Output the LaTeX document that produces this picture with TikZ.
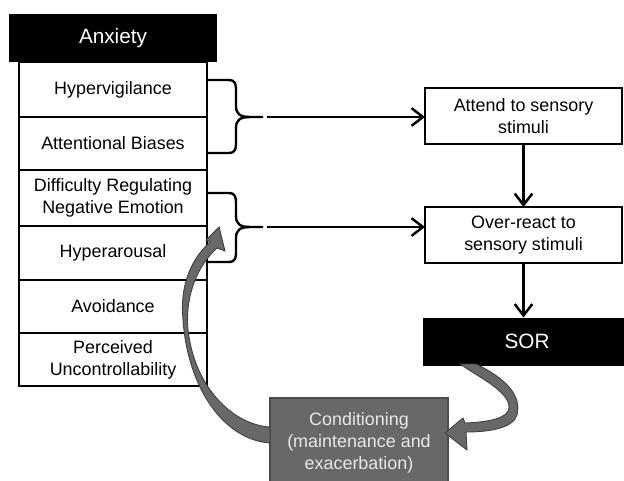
\documentclass[tikz,border=0pt]{standalone}
\usepackage{fontspec}
\setmainfont{Liberation Sans}
\usetikzlibrary{positioning,arrows.meta}

\definecolor{condgray}{RGB}{104,104,104}
\definecolor{condtext}{RGB}{232,232,232}

\tikzset{
  cell/.style={draw, line width=1.05pt, minimum width=3.76cm, align=center,
    inner sep=1pt, outer sep=0pt, font=\fontsize{10.2}{12.5}\selectfont},
  head/.style={fill=black, text=white, minimum width=4.16cm, minimum height=0.96cm,
    outer sep=0pt, font=\fontsize{11.8}{14}\selectfont},
  stimbox/.style={draw, line width=1.05pt, minimum width=3.94cm, minimum height=1.12cm,
    align=center, outer sep=0pt, font=\fontsize{10.2}{12.5}\selectfont},
  flow/.style={-{Straight Barb[length=6.5pt,width=10pt]}, line width=1.4pt},
  brace/.style={line width=1.35pt},
  fatarrow/.style={fill=condgray, draw=black!75, line width=0.5pt}
}

\begin{document}
\begin{tikzpicture}[x=0.02cm, y=-0.02cm]
\clip (0,0) rectangle (624,480);

% left column
\node [head] (anxiety) at (113,38) {Anxiety};
\node [cell, minimum height=1.1cm, below=0pt of anxiety] (hyper) {Hypervigilance};
\node [cell, minimum height=1.06cm, below=0pt of hyper] (biases) {Attentional Biases};
\node [cell, minimum height=1.12cm, below=0pt of biases] (regulate) {Difficulty Regulating\\Negative Emotion};
\node [cell, minimum height=1.08cm, below=0pt of regulate] (arousal) {Hyperarousal};
\node [cell, minimum height=1.06cm, below=0pt of arousal] (avoid) {Avoidance};
\node [cell, minimum height=1.06cm, below=0pt of avoid] (uncontrol) {Perceived\\Uncontrollability};

% right column
\node [stimbox] (attend) at (523.5,116) {Attend to sensory\\stimuli};
\node [stimbox] (overreact) at (523.5,235) {Over-react to\\sensory stimuli};
\node [head] (sor) at (527,341.5) {SOR};

% conditioning
\node [fill=condgray, draw=black!70, line width=0.6pt, text=condtext, align=center,
  minimum width=3.56cm, minimum height=1.8cm, outer sep=0pt,
  font=\fontsize{10.2}{12.5}\selectfont] (cond) at (359,443)
  {Conditioning\\(maintenance and\\exacerbation)};

% braces
\foreach \a/\m/\b in {80/117/153, 193/227/262}{
  \draw [brace] (207,\a) -- (228,\a) .. controls (236,\a) and (236,\a+4) .. (236,\a+12)
    -- (236,\m-11) .. controls (236,\m-3) and (240,\m) .. (250,\m) -- (263,\m);
  \draw [brace] (207,\b) -- (228,\b) .. controls (236,\b) and (236,\b-4) .. (236,\b-12)
    -- (236,\m+11) .. controls (236,\m+3) and (240,\m) .. (250,\m);
}
\coordinate (tipA) at (267,117);
\coordinate (tipB) at (267,227);

% arrows
\draw [flow] (tipA) -- (attend.west |- tipA);
\draw [flow] (tipB) -- (overreact.west |- tipB);
\draw [flow] (attend) -- (overreact);
\draw [flow] (overreact.south) -- (overreact.south |- sor.north);

% curved arrow: SOR to conditioning
\draw [fatarrow] (460,364) -- (476,364)
  .. controls (505,378) and (522,395) .. (517,415)
  .. controls (513,428) and (490,432) .. (466,432)
  -- (467,450) -- (445,433) -- (463,418) -- (465,423)
  .. controls (490,422) and (508,418) .. (509,408)
  .. controls (510,392) and (480,378) .. (460,364) -- cycle;

% curved arrow: conditioning back to hyperarousal
\draw [fatarrow] (270,427)
  .. controls (235,425) and (195,390) .. (188,330)
  .. controls (185,300) and (195,268) .. (217,248)
  -- (225,251) -- (219,227) -- (206,240) -- (210,242)
  .. controls (188,262) and (180,290) .. (183,320)
  .. controls (188,390) and (225,440) .. (270,443) -- cycle;

\end{tikzpicture}
\end{document}
